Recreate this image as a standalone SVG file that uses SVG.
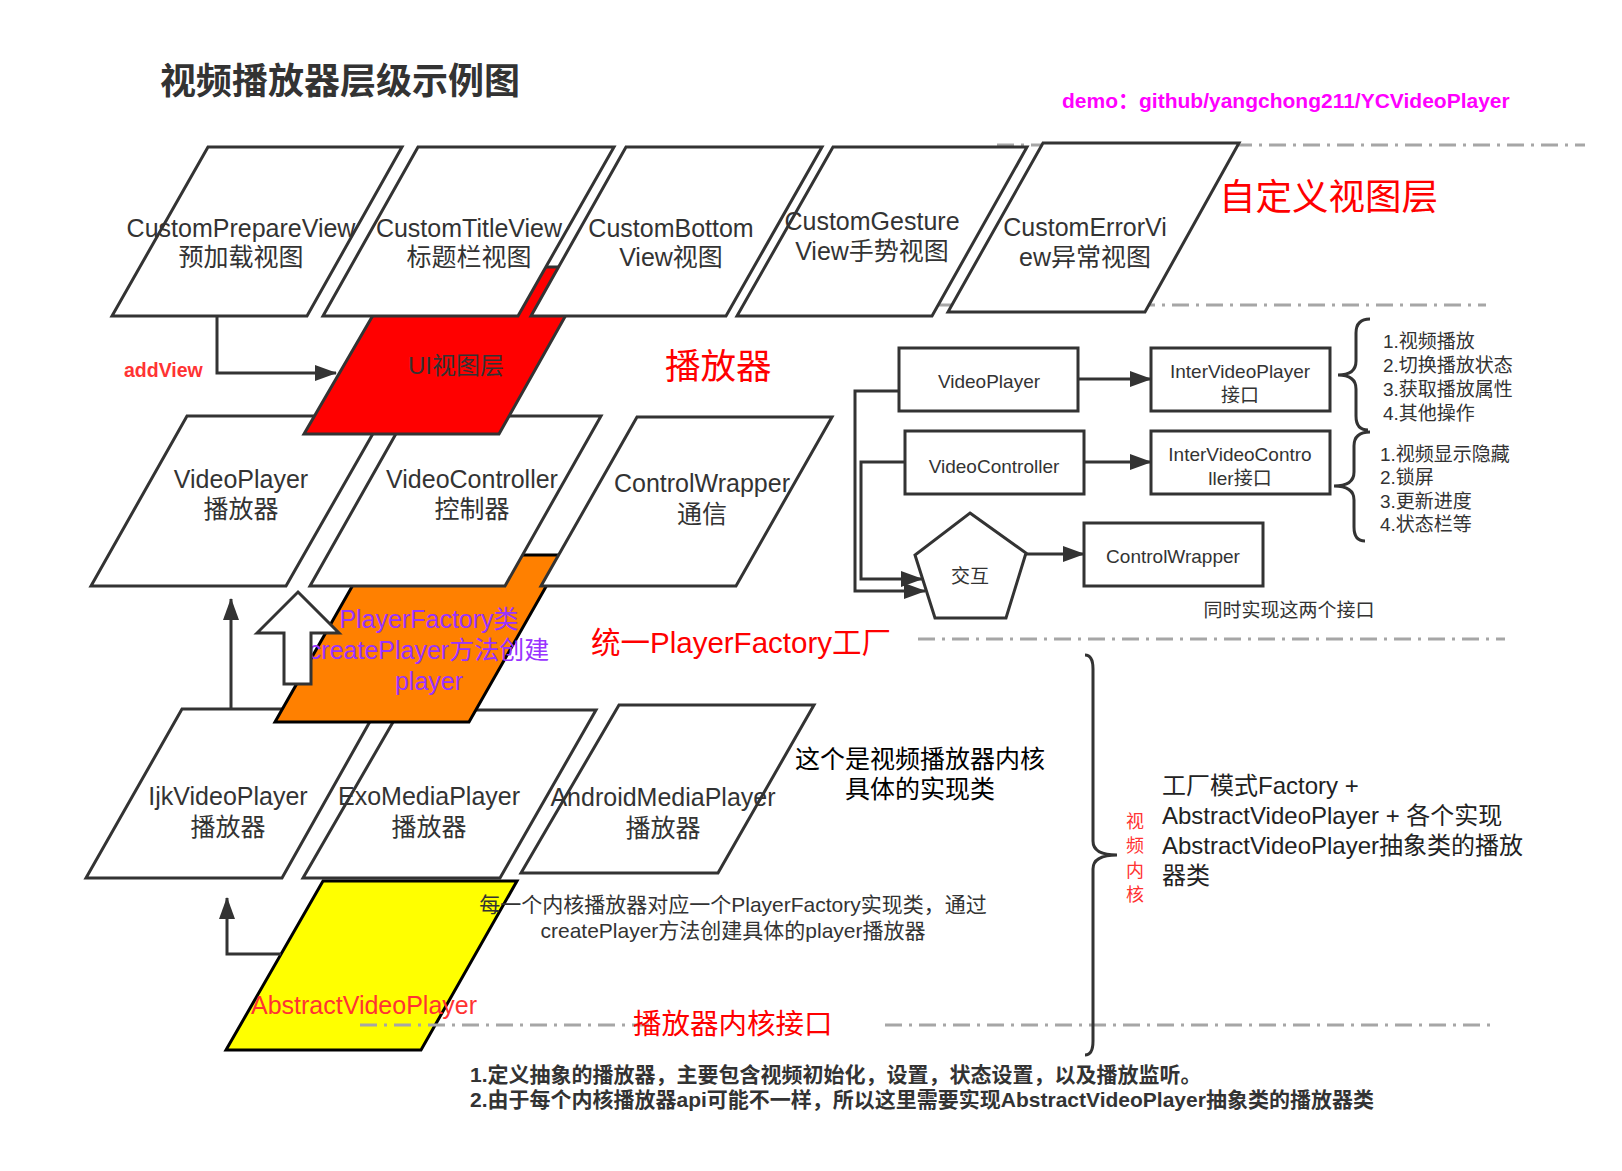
<svg xmlns="http://www.w3.org/2000/svg" width="1622" height="1171" viewBox="0 0 1622 1171">
<style>
.sh{stroke:#333;stroke-width:3;fill:#fff;stroke-linejoin:miter}
.bk{stroke:#000;stroke-width:3}
.t{font-family:"Liberation Sans","Noto Sans CJK SC",sans-serif;fill:#333}
.c{text-anchor:middle}
.l25{font-size:25px}
.l19{font-size:19px}
.dash{stroke:#a6a6a6;stroke-width:3;stroke-dasharray:17 7 3 7;fill:none}
.cn{stroke:#333;stroke-width:3;fill:none}
.red{fill:#ff0000}
</style>
<defs>
<marker id="ah" markerUnits="userSpaceOnUse" markerWidth="22" markerHeight="18" refX="21" refY="8" orient="auto">
<path d="M0,0 L22,8 L0,16 Z" fill="#333"/>
</marker>
</defs>
<rect width="1622" height="1171" fill="#fff"/>

<g id="guides-top">
<line class="dash" x1="997" y1="145" x2="1585" y2="145"/>
<line class="dash" x1="900" y1="305" x2="1486" y2="305"/>
</g>

<g id="ijk">
<polygon class="sh" points="182,709 377,709 282,878 86,878"/>
<text class="t c l25" x="228" y="805">IjkVideoPlayer</text>
<text class="t c l25" x="228" y="836">播放器</text>
</g>
<g id="exo">
<polygon class="sh" points="400,710 596,710 500,878 303,878"/>
<text class="t c l25" x="429" y="805">ExoMediaPlayer</text>
<text class="t c l25" x="429" y="836">播放器</text>
</g>
<g id="android">
<polygon class="sh" points="619,705 814,705 718,873 521,873"/>
<text class="t c l25" x="663" y="806">AndroidMediaPlayer</text>
<text class="t c l25" x="663" y="837">播放器</text>
</g>

<g id="playerfactory">
<polygon class="bk" fill="#ff8000" points="370,555 564,555 469,722 275,722"/>
<text class="t c l25" style="fill:#9933ff" x="429" y="628">PlayerFactory类</text>
<text class="t c l25" style="fill:#9933ff" x="429" y="659">createPlayer方法创建</text>
<text class="t c l25" style="fill:#9933ff" x="429" y="690">player</text>
</g>

<g id="videoplayer">
<polygon class="sh" points="187,416 383,416 286,586 91,586"/>
<text class="t c l25" x="241" y="488">VideoPlayer</text>
<text class="t c l25" x="241" y="518">播放器</text>
</g>
<g id="videocontroller">
<polygon class="sh" points="406,416 601,416 505,586 310,586"/>
<text class="t c l25" x="472" y="488">VideoController</text>
<text class="t c l25" x="472" y="518">控制器</text>
</g>
<g id="controlwrapper">
<polygon class="sh" points="637,417 832,417 736,586 541,586"/>
<text class="t c l25" x="702" y="492">ControlWrapper</text>
<text class="t c l25" x="702" y="523">通信</text>
</g>

<g id="ui-layer">
<polygon fill="#ff0000" stroke="#333" stroke-width="3" points="401,267 593,267 499,434 304,434"/>
<text class="t c" style="font-size:24px" x="456" y="374">UI视图层</text>
</g>

<g id="custom-prepare">
<polygon class="sh" points="208,147 402,147 307,316 112,316"/>
<text class="t c l25" x="241" y="237">CustomPrepareView</text>
<text class="t c l25" x="241" y="266">预加载视图</text>
</g>
<g id="custom-title">
<polygon class="sh" points="418,147 614,147 518,316 323,316"/>
<text class="t c l25" x="469" y="237">CustomTitleView</text>
<text class="t c l25" x="469" y="266">标题栏视图</text>
</g>
<g id="custom-bottom">
<polygon class="sh" points="626,147 822,147 726,316 531,316"/>
<text class="t c l25" x="671" y="237">CustomBottom</text>
<text class="t c l25" x="671" y="266">View视图</text>
</g>
<g id="custom-gesture">
<polygon class="sh" points="833,147 1027,147 932,316 737,316"/>
<text class="t c l25" x="872" y="230">CustomGesture</text>
<text class="t c l25" x="872" y="260">View手势视图</text>
</g>
<g id="custom-error">
<polygon class="sh" points="1043,143 1239,143 1145,312 948,312"/>
<text class="t c l25" x="1085" y="236">CustomErrorVi</text>
<text class="t c l25" x="1085" y="266">ew异常视图</text>
</g>

<g id="abstract-player">
<polygon class="bk" fill="#ffff00" points="323,881 517,881 421,1050 226,1050"/>
<text class="t c l25" style="fill:#ff3333" x="364" y="1014">AbstractVideoPlayer</text>
</g>

<g id="guides-bottom">
<line class="dash" x1="918" y1="639" x2="1505" y2="639"/>
<line class="dash" x1="360" y1="1025" x2="650" y2="1025"/>
<line class="dash" x1="885" y1="1025" x2="1497" y2="1025"/>
</g>

<g id="r-videoplayer">
<rect class="sh" x="899" y="348" width="179" height="63"/>
<text class="t c l19" x="989" y="388">VideoPlayer</text>
</g>
<g id="r-intervideoplayer">
<rect class="sh" x="1151" y="348" width="179" height="63"/>
<text class="t c l19" x="1240" y="378">InterVideoPlayer</text>
<text class="t c l19" x="1240" y="402">接口</text>
</g>
<g id="r-videocontroller">
<rect class="sh" x="905" y="431" width="179" height="63"/>
<text class="t c l19" x="994" y="473">VideoController</text>
</g>
<g id="r-intervideocontroller">
<rect class="sh" x="1151" y="431" width="179" height="63"/>
<text class="t c l19" x="1240" y="461">InterVideoContro</text>
<text class="t c l19" x="1240" y="485">ller接口</text>
</g>
<g id="r-interact">
<polygon class="sh" points="970,513 1026,553 1006,618 935,618 915,555"/>
<text class="t c l19" x="970" y="583">交互</text>
</g>
<g id="r-controlwrapper">
<rect class="sh" x="1084" y="523" width="179" height="63"/>
<text class="t c l19" x="1173" y="563">ControlWrapper</text>
</g>

<g id="connectors">
<polyline class="cn" marker-end="url(#ah)" points="217,316 217,373 336,373"/>
<line class="cn" marker-end="url(#ah)" x1="231" y1="708" x2="231" y2="599"/>
<polyline class="cn" marker-end="url(#ah)" points="281,954 227,954 227,898"/>
<polygon class="sh" points="298,592 339,633 311,633 311,684 284,684 284,633 257,633"/>
<line class="cn" marker-end="url(#ah)" x1="1078" y1="379" x2="1151" y2="379"/>
<line class="cn" marker-end="url(#ah)" x1="1084" y1="462" x2="1151" y2="462"/>
<line class="cn" marker-end="url(#ah)" x1="1026" y1="554" x2="1084" y2="554"/>
<polyline class="cn" marker-end="url(#ah)" points="899,391 855,391 855,591 925,591"/>
<polyline class="cn" marker-end="url(#ah)" points="905,462 861,462 861,579 922,579"/>
<path class="cn" d="M1370,319 Q1356,319 1356,333 L1356,361 Q1356,375 1338,375 Q1356,375 1356,389 L1356,416 Q1356,430 1368,430"/>
<path class="cn" d="M1370,432 Q1354,432 1354,446 L1354,472 Q1354,486 1334,486 Q1354,486 1354,500 L1354,527 Q1354,541 1365,541"/>
<path class="cn" d="M1085,655 Q1093,655 1093,669 L1093,841 Q1093,855 1117,855 Q1093,855 1093,869 L1093,1041 Q1093,1055 1085,1055"/>
</g>

<g id="labels">
<text class="t" style="font-size:36px;font-weight:bold" x="160" y="94">视频播放器层级示例图</text>
<text class="t" style="font-size:21px;font-weight:bold;fill:#ff00ff" x="1062" y="108">demo：github/yangchong211/YCVideoPlayer</text>
<text class="t red" style="font-size:36.5px" x="1219" y="210">自定义视图层</text>
<text class="t red" style="font-size:35.5px" x="665" y="379">播放器</text>
<text class="t" style="font-size:19.5px;font-weight:bold;fill:#ff3333" x="124" y="377">addView</text>
<text class="t red" style="font-size:29.5px" x="591" y="653">统一PlayerFactory工厂</text>
<text class="t c l25" style="fill:#000" x="920" y="768">这个是视频播放器内核</text>
<text class="t c l25" style="fill:#000" x="920" y="798">具体的实现类</text>
<text class="t c" style="font-size:21px" x="733" y="912">每一个内核播放器对应一个PlayerFactory实现类，通过</text>
<text class="t c" style="font-size:21px" x="733" y="938">createPlayer方法创建具体的player播放器</text>
<text class="t red" style="font-size:28.5px" x="633" y="1034">播放器内核接口</text>
<text class="t" style="font-size:21px;font-weight:bold" x="470" y="1082">1.定义抽象的播放器，主要包含视频初始化，设置，状态设置，以及播放监听。</text>
<text class="t" style="font-size:21px;font-weight:bold" x="470" y="1107">2.由于每个内核播放器api可能不一样，所以这里需要实现AbstractVideoPlayer抽象类的播放器类</text>
<g class="t c" style="font-size:18px;fill:#ff3333">
<text x="1135" y="828">视</text>
<text x="1135" y="852">频</text>
<text x="1135" y="877">内</text>
<text x="1135" y="901">核</text>
</g>
<g class="t" style="font-size:24px;fill:#222">
<text x="1162" y="794">工厂模式Factory +</text>
<text x="1162" y="824">AbstractVideoPlayer + 各个实现</text>
<text x="1162" y="854">AbstractVideoPlayer抽象类的播放</text>
<text x="1162" y="884">器类</text>
</g>
<g class="t l19">
<text x="1383" y="348">1.视频播放</text>
<text x="1383" y="372">2.切换播放状态</text>
<text x="1383" y="396">3.获取播放属性</text>
<text x="1383" y="420">4.其他操作</text>
<text x="1380" y="461">1.视频显示隐藏</text>
<text x="1380" y="484">2.锁屏</text>
<text x="1380" y="508">3.更新进度</text>
<text x="1380" y="531">4.状态栏等</text>
</g>
<text class="t c l19" x="1289" y="617">同时实现这两个接口</text>
</g>
</svg>
